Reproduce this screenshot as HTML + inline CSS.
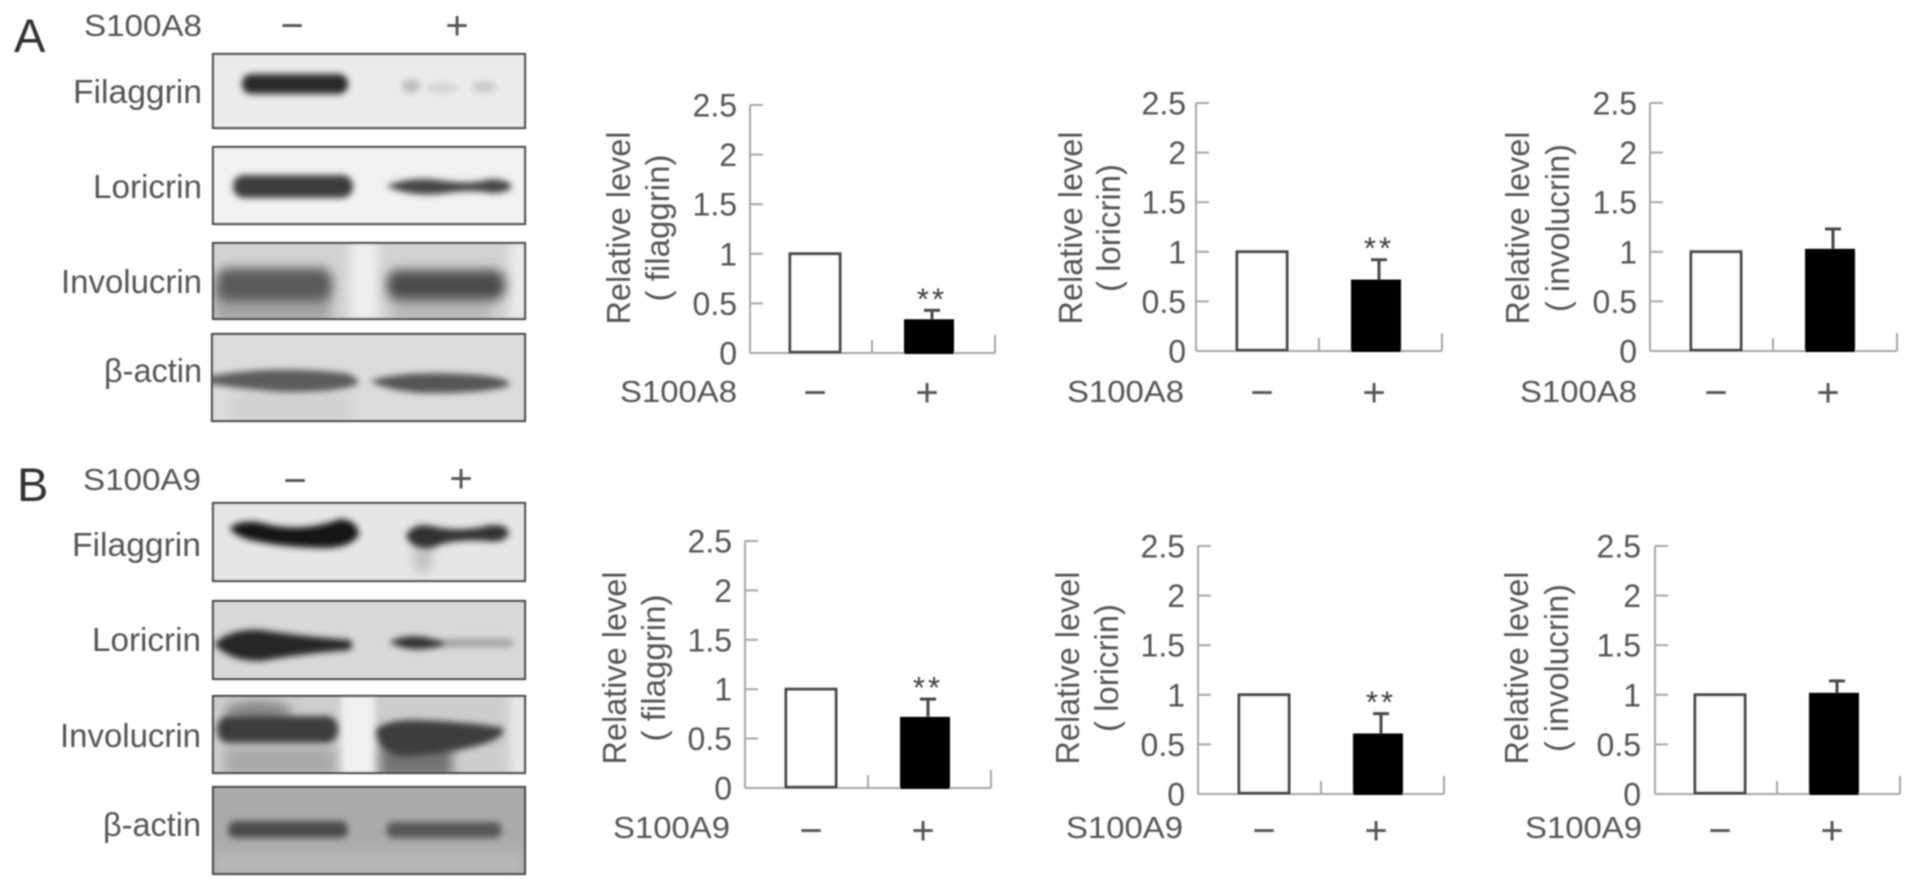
<!DOCTYPE html>
<html lang="en">
<head>
<meta charset="utf-8">
<title>S100A8 and S100A9 western blots with relative level charts</title>
<style>
html,body{margin:0;padding:0;background:#fff;width:1913px;height:888px;overflow:hidden}
svg#figure{display:block}
text{font-family:"Liberation Sans",sans-serif;fill:#545454}
</style>
</head>
<body>
<svg id="figure" xmlns="http://www.w3.org/2000/svg" width="1913" height="888" viewBox="0 0 1913 888">
<defs>
<filter id="soft" filterUnits="userSpaceOnUse" x="0" y="0" width="1913" height="888"><feGaussianBlur stdDeviation="0.7"/></filter>
<filter id="b2" filterUnits="userSpaceOnUse" x="0" y="0" width="1913" height="888"><feGaussianBlur stdDeviation="3.2"/></filter>
<filter id="b4" filterUnits="userSpaceOnUse" x="0" y="0" width="1913" height="888"><feGaussianBlur stdDeviation="5.5"/></filter>
<filter id="b8" filterUnits="userSpaceOnUse" x="0" y="0" width="1913" height="888"><feGaussianBlur stdDeviation="9"/></filter>
</defs>
<g id="root" filter="url(#soft)">

<text x="14" y="52" font-size="47" style="fill:#333">A</text>
<text x="84" y="36" font-size="31" textLength="118" lengthAdjust="spacingAndGlyphs">S100A8</text>
<text x="292" y="39" font-size="40" text-anchor="middle">−</text>
<text x="457" y="39" font-size="40" text-anchor="middle">+</text>
<text x="73" y="103" font-size="33" textLength="129" lengthAdjust="spacingAndGlyphs">Filaggrin</text>
<text x="93" y="198" font-size="33" textLength="109" lengthAdjust="spacingAndGlyphs">Loricrin</text>
<text x="61" y="293" font-size="33" textLength="141" lengthAdjust="spacingAndGlyphs">Involucrin</text>
<text x="104" y="382" font-size="33" textLength="98" lengthAdjust="spacingAndGlyphs" style='font-family:"Liberation Sans","DejaVu Sans",sans-serif'>β-actin</text>

<g>
<svg x="213" y="54" width="312" height="74" viewBox="213 54 312 74">
<rect x="213" y="54" width="312" height="74" fill="#ebebeb"/>
<rect x="242" y="74" width="106" height="20" rx="9" fill="#2c2c2c" filter="url(#b2)"/>
<ellipse cx="411" cy="86" rx="9" ry="7" fill="#bcbcbc" filter="url(#b2)"/>
<ellipse cx="442" cy="88" rx="16" ry="5" fill="#d2d2d2" filter="url(#b2)"/>
<ellipse cx="484" cy="87" rx="12" ry="6" fill="#cbcbcb" filter="url(#b2)"/>
</svg>
<rect x="213" y="54" width="312" height="74" fill="none" stroke="#4a4a4a" stroke-width="2.2"/>
</g>
<g>
<svg x="213" y="147" width="312" height="77" viewBox="213 147 312 77">
<rect x="213" y="147" width="312" height="77" fill="#f2f2f2"/>
<rect x="233" y="175" width="120" height="23" rx="11" fill="#3c3c3c" filter="url(#b2)"/>
<path d="M386 186 Q410 176 440 180 Q470 185 490 179 Q508 179 512 186 Q508 194 490 193 Q470 189 440 194 Q410 197 386 186Z" fill="#454545" filter="url(#b2)"/>
</svg>
<rect x="213" y="147" width="312" height="77" fill="none" stroke="#4a4a4a" stroke-width="2.2"/>
</g>
<g>
<svg x="213" y="243" width="312" height="76" viewBox="213 243 312 76">
<rect x="213" y="243" width="312" height="76" fill="#d2d2d2"/>
<rect x="350" y="240" width="28" height="82" fill="#efefef" filter="url(#b4)"/>
<rect x="510" y="240" width="20" height="82" fill="#ececec" filter="url(#b4)"/>
<rect x="213" y="288" width="118" height="34" fill="#a4a4a4" filter="url(#b4)"/>
<rect x="392" y="292" width="100" height="30" fill="#b8b8b8" filter="url(#b4)"/>
<rect x="216" y="268" width="116" height="33" rx="12" fill="#5a5a5a" filter="url(#b4)"/>
<rect x="387" y="270" width="118" height="30" rx="12" fill="#4c4c4c" filter="url(#b4)"/>
</svg>
<rect x="213" y="243" width="312" height="76" fill="none" stroke="#4a4a4a" stroke-width="2.2"/>
</g>
<g>
<svg x="212" y="334" width="313" height="87" viewBox="212 334 313 87">
<rect x="212" y="334" width="313" height="87" fill="#dcdcdc"/>
<rect x="230" y="395" width="120" height="26" fill="#d0d0d0" filter="url(#b4)"/>
<path d="M200 378 Q270 364 345 373 Q360 378 358 384 Q340 393 280 392 Q230 388 200 382Z" fill="#5c5c5c" filter="url(#b2)"/>
<path d="M370 381 Q400 371 460 374 Q510 376 510 385 Q490 394 420 393 Q385 390 370 381Z" fill="#555" filter="url(#b2)"/>
</svg>
<rect x="212" y="334" width="313" height="87" fill="none" stroke="#4a4a4a" stroke-width="2.2"/>
</g>

<text x="17" y="501" font-size="47" style="fill:#333">B</text>
<text x="83" y="490" font-size="31" textLength="118" lengthAdjust="spacingAndGlyphs">S100A9</text>
<text x="295" y="494" font-size="40" text-anchor="middle">−</text>
<text x="461" y="492" font-size="40" text-anchor="middle">+</text>
<text x="72" y="556" font-size="33" textLength="129" lengthAdjust="spacingAndGlyphs">Filaggrin</text>
<text x="92" y="651" font-size="33" textLength="109" lengthAdjust="spacingAndGlyphs">Loricrin</text>
<text x="60" y="747" font-size="33" textLength="141" lengthAdjust="spacingAndGlyphs">Involucrin</text>
<text x="103" y="836" font-size="33" textLength="98" lengthAdjust="spacingAndGlyphs" style='font-family:"Liberation Sans","DejaVu Sans",sans-serif'>β-actin</text>

<g>
<svg x="213" y="503" width="312" height="78" viewBox="213 503 312 78">
<rect x="213" y="503" width="312" height="78" fill="#e6e6e6"/>
<ellipse cx="423" cy="558" rx="10" ry="16" fill="#c2c2c2" filter="url(#b4)"/>
<path d="M230 527 Q245 517 270 525 Q305 532 340 519 Q358 520 359 535 Q350 549 320 548 Q280 547 250 540 Q232 535 230 527Z" fill="#181818" filter="url(#b2)"/>
<path d="M406 535 Q414 522 432 526 Q460 533 490 525 Q508 524 509 533 Q505 544 485 541 Q450 539 432 548 Q410 550 406 535Z" fill="#333" filter="url(#b2)"/>
</svg>
<rect x="213" y="503" width="312" height="78" fill="none" stroke="#4a4a4a" stroke-width="2.2"/>
</g>
<g>
<svg x="213" y="601" width="312" height="78" viewBox="213 601 312 78">
<rect x="213" y="601" width="312" height="78" fill="#d9d9d9"/>
<path d="M214 644 Q230 628 262 630 Q300 636 350 640 Q354 645 350 650 Q300 654 262 661 Q230 662 214 644Z" fill="#282828" filter="url(#b2)"/>
<path d="M389 642 Q405 634 425 637 Q442 641 450 643 Q442 647 425 649 Q405 651 389 642Z" fill="#333" filter="url(#b2)"/>
<rect x="445" y="639" width="68" height="8" rx="4" fill="#a0a0a0" filter="url(#b2)"/>
</svg>
<rect x="213" y="601" width="312" height="78" fill="none" stroke="#4a4a4a" stroke-width="2.2"/>
</g>
<g>
<svg x="213" y="696" width="312" height="77" viewBox="213 696 312 77">
<rect x="213" y="696" width="312" height="77" fill="#cdcdcd"/>
<rect x="341" y="692" width="34" height="85" fill="#f0f0f0" filter="url(#b2)"/>
<rect x="510" y="692" width="18" height="85" fill="#ebebeb" filter="url(#b4)"/>
<rect x="380" y="745" width="72" height="32" fill="#727272" filter="url(#b4)"/>
<rect x="225" y="748" width="110" height="28" fill="#a8a8a8" filter="url(#b4)"/>
<ellipse cx="258" cy="712" rx="34" ry="11" fill="#868686" filter="url(#b4)"/>
<rect x="217" y="716" width="121" height="27" rx="12" fill="#3e3e3e" filter="url(#b2)"/>
<path d="M376 730 Q385 719 420 720 Q470 722 503 728 Q506 738 480 745 Q440 756 400 756 Q377 752 376 730Z" fill="#3e3e3e" filter="url(#b2)"/>
</svg>
<rect x="213" y="696" width="312" height="77" fill="none" stroke="#4a4a4a" stroke-width="2.2"/>
</g>
<g>
<svg x="213" y="787" width="312" height="87" viewBox="213 787 312 87">
<rect x="213" y="787" width="312" height="87" fill="#ababab"/>
<rect x="213" y="852" width="312" height="26" fill="#b8b8b8" filter="url(#b4)"/>
<rect x="228" y="821" width="120" height="17" rx="8" fill="#4c4c4c" filter="url(#b2)"/>
<rect x="386" y="822" width="116" height="16" rx="8" fill="#565656" filter="url(#b2)"/>
</svg>
<rect x="213" y="787" width="312" height="87" fill="none" stroke="#4a4a4a" stroke-width="2.2"/>
</g>
</g>
</svg>
<script>
// Chart data
const categories = ['−', '+'];
const tickLabels = ['0', '0.5', '1', '1.5', '2', '2.5'];
const tickValues = [0, 0.5, 1, 1.5, 2, 2.5];
const proteinTitles = ['( filaggrin)', '( loricrin)', '( involucrin)', '( filaggrin)', '( loricrin)', '( involucrin)'];
const treatmentNames = ['S100A8', 'S100A8', 'S100A8', 'S100A9', 'S100A9', 'S100A9'];
const controlMeans = [1, 1, 1, 1, 1, 1];
const treatedMeans = [0.34, 0.72, 1.03, 0.72, 0.61, 1.02];
const treatedErrors = [0.09, 0.20, 0.20, 0.18, 0.20, 0.12];
const significant = [true, true, false, true, true, false];

// Panel geometry (separate from data)
const panelFrames = [
  {ax:750, top:105, zero:353, end:995, mid:872, titleX:630, subX:669, midY:228, labelRight:737, tickRight:737, labelY:402, catY:406, subLen:147},
  {ax:1196,top:103, zero:351, end:1442,mid:1319,titleX:1082,subX:1120,midY:228, labelRight:1184,tickRight:1186,labelY:402, catY:406, subLen:128},
  {ax:1650,top:103, zero:351, end:1897,mid:1773,titleX:1529,subX:1569,midY:228, labelRight:1637,tickRight:1637,labelY:402, catY:406, subLen:168},
  {ax:745, top:541, zero:788, end:991, mid:868, titleX:626, subX:665, midY:668, labelRight:730, tickRight:732, labelY:838, catY:844, subLen:147},
  {ax:1198,top:546, zero:794, end:1444,mid:1321,titleX:1079,subX:1118,midY:668, labelRight:1183,tickRight:1185,labelY:838, catY:844, subLen:128},
  {ax:1655,top:546, zero:794, end:1900,mid:1777,titleX:1528,subX:1568,midY:668, labelRight:1642,tickRight:1641,labelY:838, catY:844, subLen:168}
];
const BAR_WIDTH = 50, BAND_STEP = 114, AXIS_MAX = 2.5;
const NS = 'http://www.w3.org/2000/svg';
const root = document.getElementById('root');

function make(tag, parent, props, content) {
  const node = document.createElementNS(NS, tag);
  for (const key in props) node.setAttribute(key, props[key]);
  if (content !== undefined) node.textContent = content;
  parent.appendChild(node);
  return node;
}
function yScale(f, v) { return f.zero - v * (f.zero - f.top) / AXIS_MAX; }
function xCenter(f, i) { return f.mid + (i - 0.5) * BAND_STEP; }

panelFrames.forEach(function (f, p) {
  const g = make('g', root, {});
  
  

  const yAxis = make('line', g, {x1:f.ax, y1:f.top, x2:f.ax, y2:f.zero, stroke:'#a6a6a6', 'stroke-width':2});
  
  

  const xAxis = make('line', g, {x1:f.ax, y1:f.zero, x2:f.end, y2:f.zero, stroke:'#a6a6a6', 'stroke-width':2});
  
  

  const midTick = make('line', g, {x1:f.mid, y1:f.zero - 13, x2:f.mid, y2:f.zero, stroke:'#a6a6a6', 'stroke-width':2});
  
  

  const endTick = make('line', g, {x1:f.end, y1:f.zero - 18, x2:f.end, y2:f.zero, stroke:'#a6a6a6', 'stroke-width':2});
  
  

  tickValues.forEach(function (v, i) {
    const y = yScale(f, v);
    if (v > 0) {
      const tick = make('line', g, {x1:f.ax, y1:y, x2:f.ax + 13, y2:y, stroke:'#a6a6a6', 'stroke-width':2});
      
      
    }
    const label = make('text', g, {x:f.tickRight, y:y + 11.5, 'font-size':32, 'text-anchor':'end'}, tickLabels[i]);
    
    
  });

  const title = make('text', g, {x:f.titleX, y:f.midY, 'font-size':33, 'text-anchor':'middle', textLength:193, lengthAdjust:'spacingAndGlyphs', transform:'rotate(-90 ' + f.titleX + ' ' + f.midY + ')'}, 'Relative level');
  
  

  const subtitle = make('text', g, {x:f.subX, y:f.midY, 'font-size':33, 'text-anchor':'middle', textLength:f.subLen, lengthAdjust:'spacingAndGlyphs', transform:'rotate(-90 ' + f.subX + ' ' + f.midY + ')'}, proteinTitles[p]);
  
  

  const cy = yScale(f, controlMeans[p]);
  const controlBar = make('rect', g, {x:xCenter(f, 0) - BAR_WIDTH / 2, y:cy, width:BAR_WIDTH, height:f.zero - cy - 1, fill:'#fff', stroke:'#464646', 'stroke-width':3});
  
  

  const ty = yScale(f, treatedMeans[p]);
  const ey = yScale(f, treatedMeans[p] + treatedErrors[p]);
  const tx = xCenter(f, 1);
  const errorStem = make('line', g, {x1:tx + 3, y1:ey, x2:tx + 3, y2:ty, stroke:'#464646', 'stroke-width':3});
  
  

  const errorCap = make('line', g, {x1:tx - 5, y1:ey, x2:tx + 11, y2:ey, stroke:'#464646', 'stroke-width':3});
  
  

  const treatedBar = make('rect', g, {x:tx - BAR_WIDTH / 2, y:ty, width:BAR_WIDTH, height:f.zero + 1 - ty, fill:'#000'});
  
  

  if (significant[p]) {
    const stars = make('text', g, {x:tx + 3, y:ey - 1, 'font-size':31, 'text-anchor':'middle', 'letter-spacing':3, style:'fill:#3c3c3c'}, '**');
    
    
  }

  const treatmentLabel = make('text', g, {x:f.labelRight, y:f.labelY, 'font-size':31, 'text-anchor':'end', textLength:117, lengthAdjust:'spacingAndGlyphs'}, treatmentNames[p]);
  
  

  categories.forEach(function (c, i) {
    const cat = make('text', g, {x:xCenter(f, i) - i * 2, y:f.catY, 'font-size':40, 'text-anchor':'middle'}, c);
    
    
  });
});
</script>
</body>
</html>
